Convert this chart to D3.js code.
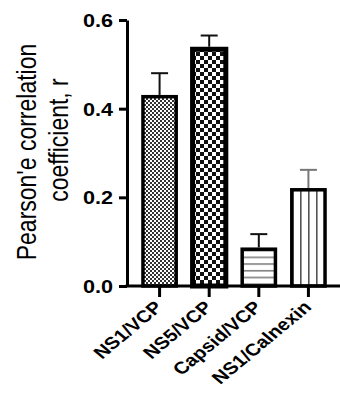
<!DOCTYPE html>
<html>
<head>
<meta charset="utf-8">
<script src="https://cdn.jsdelivr.net/npm/d3@7"></script>
<style>
  body { margin: 0; background: #fff; }
  text { font-family: "Liberation Sans", Arial, sans-serif; }
</style>
</head>
<body>
<div id="chart"></div>
<script>
var categories = ["NS1/VCP", "NS5/VCP", "Capsid/VCP", "NS1/Calnexin"];
var means = [0.427, 0.534, 0.083, 0.217];
var errors = [0.053, 0.031, 0.034, 0.045];
var yTicks = [0.0, 0.2, 0.4, 0.6];
var patterns = ["fineChecker", "bigChecker", "hLines", "vLines"];

var width = 340, height = 394;
var margin = {top: 20, left: 127, right: 0, bottom: 108};
// the original figure is a little stretched sideways, text too
var stretch = 1.2;

var svg = d3.select("#chart").append("svg")
  .attr("width", width)
  .attr("height", height);

// patterns
var defs = svg.append("defs");

var p1 = defs.append("pattern").attr("id", "fineChecker")
  .attr("patternUnits", "userSpaceOnUse").attr("width", 4).attr("height", 4);
p1.append("rect").attr("width", 4).attr("height", 4).attr("fill", "#fff");
p1.append("rect").attr("width", 2).attr("height", 2).attr("fill", "#333");
p1.append("rect").attr("x", 2).attr("y", 2).attr("width", 2).attr("height", 2).attr("fill", "#333");

var p2 = defs.append("pattern").attr("id", "bigChecker")
  .attr("patternUnits", "userSpaceOnUse").attr("width", 8).attr("height", 8);
p2.append("rect").attr("width", 8).attr("height", 8).attr("fill", "#fff");
p2.append("rect").attr("width", 4).attr("height", 4).attr("fill", "#111");
p2.append("rect").attr("x", 4).attr("y", 4).attr("width", 4).attr("height", 4).attr("fill", "#111");

var p3 = defs.append("pattern").attr("id", "hLines")
  .attr("patternUnits", "userSpaceOnUse").attr("width", 10).attr("height", 6.7);
p3.append("rect").attr("width", 10).attr("height", 6.7).attr("fill", "#fff");
p3.append("rect").attr("y", 2).attr("width", 10).attr("height", 1.5).attr("fill", "#777");

var p4 = defs.append("pattern").attr("id", "vLines")
  .attr("patternUnits", "userSpaceOnUse").attr("width", 8).attr("height", 10)
  .attr("x", 300);
p4.append("rect").attr("width", 8).attr("height", 10).attr("fill", "#fff");
p4.append("rect").attr("x", 0).attr("width", 1.6).attr("height", 10).attr("fill", "#555");

var x = d3.scaleBand()
  .domain(categories)
  .range([138, 330])
  .paddingInner(0.33)
  .paddingOuter(0.1);

var y = d3.scaleLinear()
  .domain([0, 0.6])
  .range([286, 20]);

// bars
svg.selectAll("rect.bar")
  .data(categories)
  .enter().append("rect")
    .attr("class", "bar")
    .attr("x", function(d) { return x(d); })
    .attr("y", function(d, i) { return y(means[i]); })
    .attr("width", x.bandwidth())
    .attr("height", function(d, i) { return y(0) - y(means[i]); })
    .attr("fill", function(d, i) { return "url(#" + patterns[i] + ")"; })
    .attr("stroke", "#000")
    .attr("stroke-width", function(d, i) { return i == 1 ? 5 : 3.5; });

// error bars
var eb = svg.append("g").attr("class", "errorbars");
categories.forEach(function(d, i) {
  var cx = x(d) + x.bandwidth() / 2;
  var col = i == 3 ? "#777" : "#111";
  eb.append("line")
    .attr("x1", cx).attr("x2", cx)
    .attr("y1", y(means[i]) - (i == 1 ? 2.5 : 1.75)).attr("y2", y(means[i] + errors[i]))
    .attr("stroke", col).attr("stroke-width", 2);
  eb.append("line")
    .attr("x1", cx - 8.5).attr("x2", cx + 8.5)
    .attr("y1", y(means[i] + errors[i])).attr("y2", y(means[i] + errors[i]))
    .attr("stroke", col).attr("stroke-width", 2);
});

// y axis
var yAxis = svg.append("g")
  .attr("transform", "translate(" + margin.left + ",0)")
  .call(d3.axisLeft(y).tickValues(yTicks).tickFormat(d3.format(".1f")).tickSize(8).tickSizeOuter(0));
yAxis.select(".domain").attr("stroke", "#000").attr("stroke-width", 3);
yAxis.selectAll(".tick line").attr("stroke", "#000").attr("stroke-width", 3);
yAxis.selectAll(".tick text")
  .attr("x", -14 / stretch)
  .attr("dy", "0.36em")
  .attr("transform", "scale(" + stretch + ",1)")
  .attr("font-size", 18)
  .attr("font-weight", "bold")
  .attr("fill", "#000")
  .style("font-family", "'Liberation Sans', Arial, sans-serif");

// x axis
var xAxis = svg.append("g")
  .attr("transform", "translate(0," + y(0) + ")")
  .call(d3.axisBottom(x).tickSize(11).tickSizeOuter(0));
xAxis.select(".domain").attr("d", "M" + (margin.left - 1.5) + ",0H" + width)
  .attr("stroke", "#000").attr("stroke-width", 3);
xAxis.selectAll(".tick line").attr("stroke", "#000").attr("stroke-width", 3);
xAxis.selectAll(".tick text")
  .attr("font-size", 17)
  .attr("font-weight", "bold")
  .attr("fill", "#000")
  .style("font-family", "'Liberation Sans', Arial, sans-serif")
  .attr("text-anchor", "end")
  .attr("dy", "0.35em")
  .attr("transform", "translate(-1,18) scale(" + stretch + ",1) rotate(-45)")
  .attr("y", 0).attr("x", 0);

// y axis title
var title = svg.append("text")
  .attr("transform", "translate(0,152) scale(" + stretch + ",1) rotate(-90)")
  .attr("text-anchor", "middle")
  .attr("font-size", 23)
  .attr("fill", "#000");
title.append("tspan").attr("x", 0).attr("y", 30).text("Pearson'e correlation");
title.append("tspan").attr("x", 12).attr("y", 57).text("coefficient, r");
</script>
</body>
</html>
